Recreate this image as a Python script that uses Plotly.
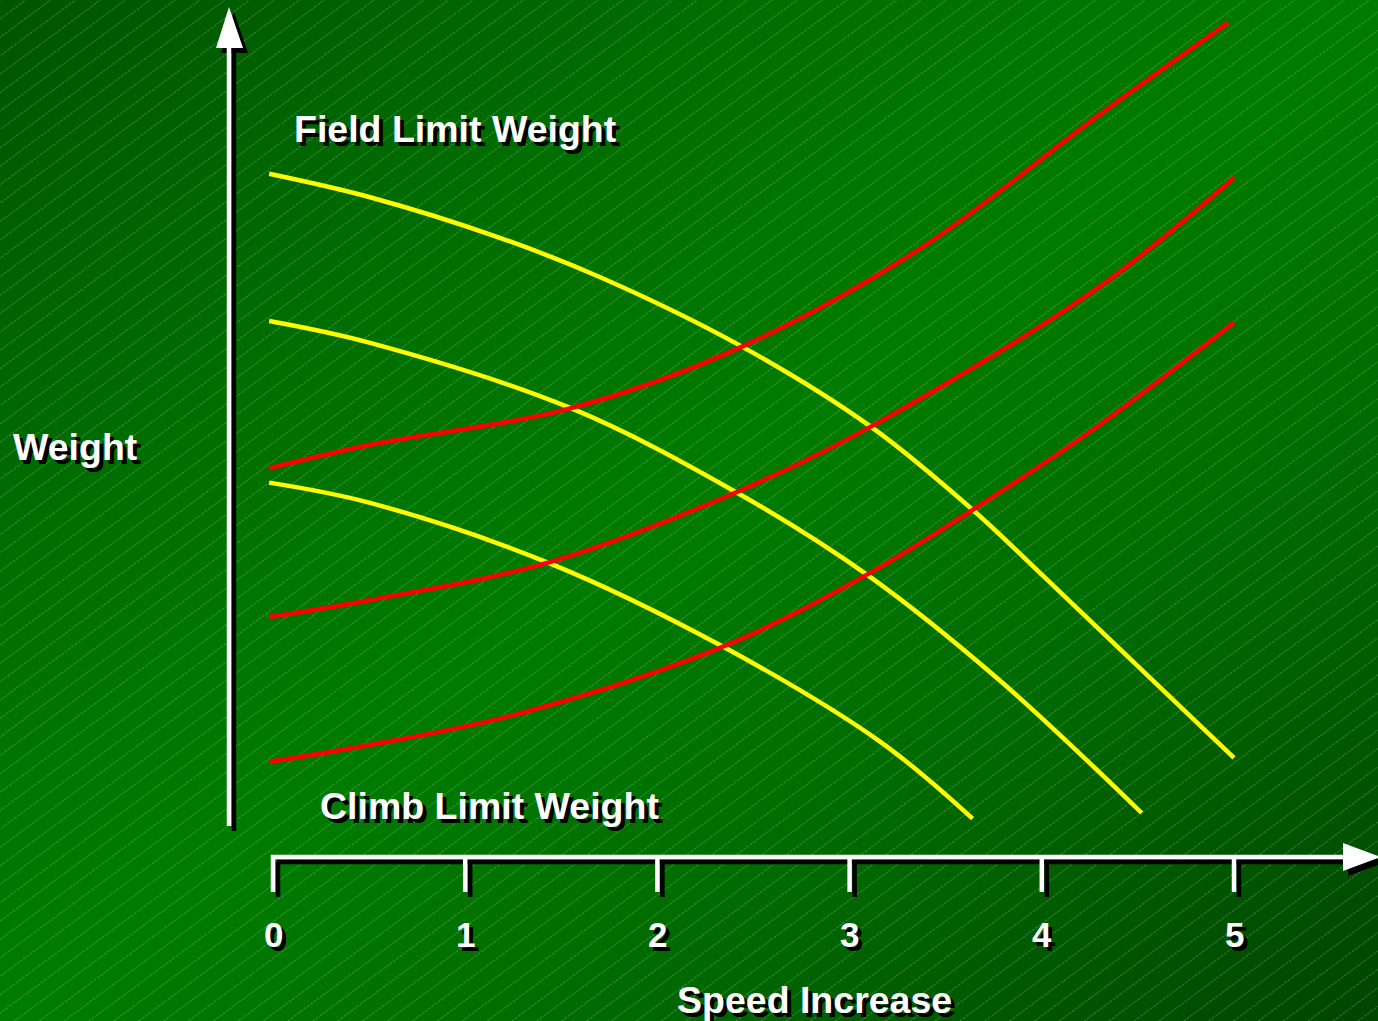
import base64
import plotly.graph_objects as go

# ---- chart data -------------------------------------------------------------
speed_ticks = [0, 1, 2, 3, 4, 5]

# Field limit weight curves (decreasing with speed increase)
field_x = [
    [-0.02, 0.50, 1.18, 1.70, 2.44, 3.11, 3.64, 4.03, 5.00],
    [-0.02, 0.50, 1.55, 2.41, 3.09, 3.78, 4.52],
    [-0.02, 0.50, 1.43, 2.34, 3.16, 3.64],
]
field_w = [
    [85.4, 82.5, 77.4, 72.5, 63.8, 53.8, 43.4, 34.6, 12.4],
    [67.0, 64.3, 56.1, 45.6, 35.3, 22.1, 5.5],
    [46.8, 44.3, 36.8, 26.3, 14.4, 4.8],
]

# Climb limit weight curves (increasing with speed increase)
climb_x = [
    [-0.02, 0.50, 1.55, 2.44, 3.37, 4.30, 4.97],
    [-0.02, 0.50, 1.43, 2.41, 3.11, 4.30, 5.00],
    [-0.02, 0.50, 1.26, 2.34, 3.09, 3.64, 4.30, 5.00],
]
climb_w = [
    [48.6, 51.5, 56.1, 63.8, 76.1, 92.8, 104.3],
    [30.0, 32.1, 36.8, 45.6, 53.8, 71.3, 84.9],
    [11.9, 14.0, 17.8, 26.3, 35.3, 43.4, 54.0, 66.8],
]

title_field = "Field Limit Weight"
title_climb = "Climb Limit Weight"
title_y = "Weight"
title_x = "Speed Increase"

# ---- page geometry ------------------------------------------------------------
W, H = 1378, 1021
X0_PX, UNIT_PX = 273.0, 192.2      # pixel of speed 0 and pixels per speed unit
W0_PY, WUNIT_PX = 857.0, 8.0       # pixel of weight 0 and pixels per weight unit

x_range = [-X0_PX / UNIT_PX, (W - X0_PX) / UNIT_PX]
w_range = [(W0_PY - H) / WUNIT_PX, W0_PY / WUNIT_PX]

# ---- background: diagonal green gradient with fine hatching ----------------------
bg_svg = f"""<svg xmlns="http://www.w3.org/2000/svg" width="{W}" height="{H}" viewBox="0 0 {W} {H}" preserveAspectRatio="none">
<defs>
<linearGradient id="g" x1="0" y1="0" x2="1" y2="1">
<stop offset="0" stop-color="#005400"/>
<stop offset="0.25" stop-color="#006c00"/>
<stop offset="0.5" stop-color="#007c00"/>
<stop offset="0.72" stop-color="#006a00"/>
<stop offset="1" stop-color="#004400"/>
</linearGradient>
<pattern id="h" patternUnits="userSpaceOnUse" width="60" height="14.8" patternTransform="rotate(-36.5)">
<line x1="0" y1="0.5" x2="60" y2="0.5" stroke="#a8e0a8" stroke-opacity="0.3" stroke-width="1" stroke-dasharray="3 1"/>
</pattern>
</defs>
<rect x="0" y="0" width="{W}" height="{H}" fill="url(#g)"/>
<rect x="0" y="0" width="{W}" height="{H}" fill="url(#h)"/>
</svg>"""
bg_uri = "data:image/svg+xml;base64," + base64.b64encode(bg_svg.encode()).decode()

fig = go.Figure()

for xs, ws in zip(field_x, field_w):
    fig.add_trace(go.Scatter(
        x=xs, y=ws, mode="lines",
        line=dict(color="#ffff00", width=4.5, shape="spline", smoothing=1.0),
        hoverinfo="skip", showlegend=False,
    ))

for xs, ws in zip(climb_x, climb_w):
    fig.add_trace(go.Scatter(
        x=xs, y=ws, mode="lines",
        line=dict(color="#ff0000", width=4.5, shape="spline", smoothing=1.0),
        hoverinfo="skip", showlegend=False,
    ))

# ---- hand-drawn style axes (white with black drop shadow) -------------------------
SH = 5  # shadow offset in pixels
shapes = []


def pline(x0, y0, x1, y1, color, width):
    return dict(type="line", xref="x2", yref="y2", x0=x0, y0=y0, x1=x1, y1=y1,
                line=dict(color=color, width=width), layer="above")


def ppath(path, color):
    return dict(type="path", xref="x2", yref="y2", path=path,
                fillcolor=color, line=dict(color=color, width=0), layer="above")


def tri(tip, b1, b2, dx=0, dy=0):
    return "M {} {} L {} {} L {} {} Z".format(
        tip[0] + dx, tip[1] + dy, b1[0] + dx, b1[1] + dy, b2[0] + dx, b2[1] + dy)


# vertical axis
y_tip, y_b1, y_b2 = (229, 7), (216, 48), (243, 48)
shapes.append(pline(229 + SH, 46 + SH, 229 + SH, 826 + SH, "#000000", 4.5))
shapes.append(ppath(tri(y_tip, y_b1, y_b2, SH, SH), "#000000"))
shapes.append(pline(229, 46, 229, 826, "#ffffff", 4.5))
shapes.append(ppath(tri(y_tip, y_b1, y_b2), "#ffffff"))

# horizontal axis
x_tip, x_b1, x_b2 = (1381, 857), (1343, 843), (1343, 871)
shapes.append(pline(272 + SH, 857 + SH, 1345 + SH, 857 + SH, "#000000", 4.5))
shapes.append(ppath(tri(x_tip, x_b1, x_b2, SH, SH), "#000000"))

# tick marks at each speed value
for t in speed_ticks:
    shapes.append(dict(type="line", xref="x", yref="y2", xsizemode="pixel", xanchor=t,
                       x0=SH, x1=SH, y0=857 + SH, y1=892 + SH,
                       line=dict(color="#000000", width=4.5), layer="above"))
shapes.append(pline(271, 857, 1345, 857, "#ffffff", 4.5))
shapes.append(ppath(tri(x_tip, x_b1, x_b2), "#ffffff"))
for t in speed_ticks:
    shapes.append(dict(type="line", xref="x", yref="y2", xsizemode="pixel", xanchor=t,
                       x0=0, x1=0, y0=855, y1=892,
                       line=dict(color="#ffffff", width=4.5), layer="above"))

# ---- labels ------------------------------------------------------------------
FONT = "Liberation Sans, Arial, sans-serif"
SHADOW = "4px 4px 0px #000000"


def label(text, x, y, size, xref="x2"):
    return dict(text=text, x=x, y=y, xref=xref, yref="y2", showarrow=False,
                xanchor="center", yanchor="middle",
                font=dict(family=FONT, size=size, color="#ffffff", weight="bold",
                          shadow=SHADOW))


annotations = [
    label(title_field, 455, 129, 37.5),
    label(title_climb, 489, 806, 37.5),
    label(title_y, 75, 447, 37.5),
    label(title_x, 814, 1000, 37.5),
]
for t in speed_ticks:
    annotations.append(label(str(t), t, 934, 35, xref="x"))

fig.update_layout(
    width=W, height=H, autosize=False,
    margin=dict(l=0, r=0, t=0, b=0, pad=0),
    paper_bgcolor="#006a00", plot_bgcolor="rgba(0,0,0,0)",
    xaxis=dict(range=x_range, visible=False, fixedrange=True, domain=[0, 1]),
    yaxis=dict(range=w_range, visible=False, fixedrange=True, domain=[0, 1]),
    xaxis2=dict(range=[0, W], visible=False, overlaying="x", fixedrange=True),
    yaxis2=dict(range=[H, 0], visible=False, overlaying="y", fixedrange=True),
    images=[dict(source=bg_uri, xref="paper", yref="paper", x=0, y=1,
                 sizex=1, sizey=1, xanchor="left", yanchor="top",
                 sizing="stretch", layer="below")],
    shapes=shapes,
    annotations=annotations,
    showlegend=False,
    hovermode=False,
)

fig.write_html("out.html", config={"displayModeBar": False, "staticPlot": True})
